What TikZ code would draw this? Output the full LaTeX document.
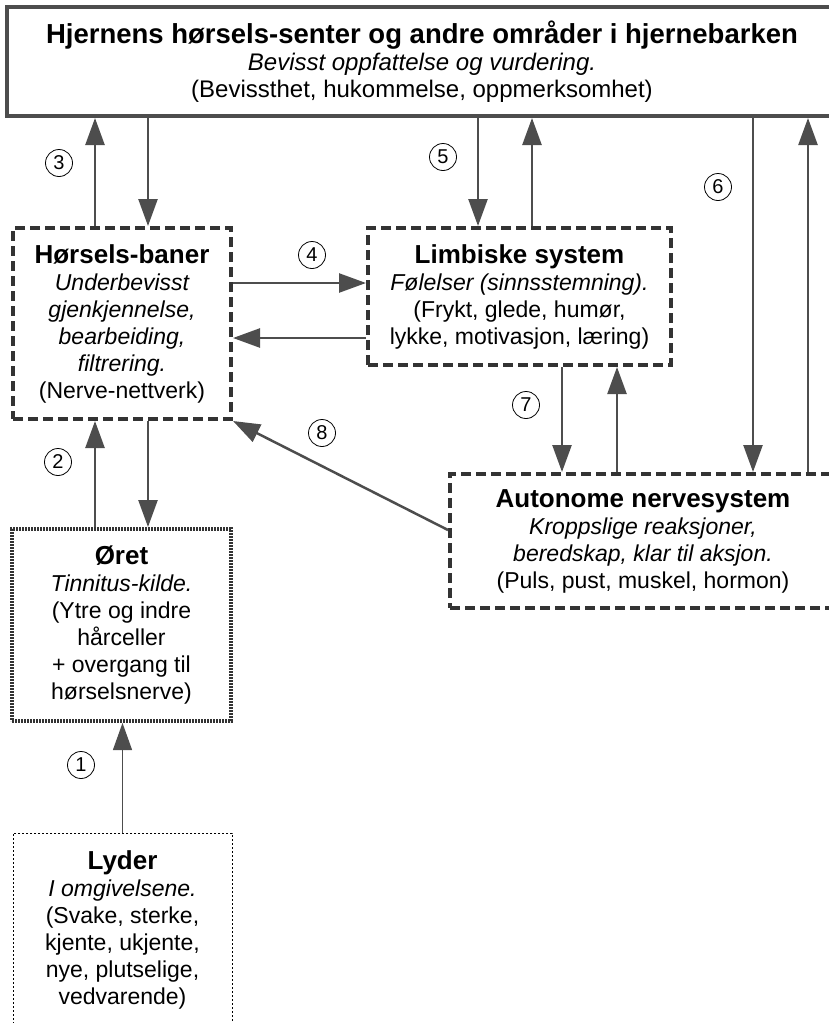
\documentclass[tikz,border=0pt]{standalone}
\usepackage{fontspec}
\setmainfont{Liberation Sans}
\usetikzlibrary{arrows.meta}
\definecolor{linegray}{HTML}{4D4D4D}
\definecolor{boxgray}{HTML}{333333}
\newcommand{\boxtitle}[1]{{\bfseries\fontsize{26}{27}\selectfont #1}}

\begin{document}
\begin{tikzpicture}[x=1pt, y=-1pt,
  every node/.style={align=center, inner sep=0pt, font=\fontsize{23}{27}\selectfont},
  topbox/.style={draw=linegray, line width=4pt},
  dashbox/.style={draw=boxgray, line width=4pt, dash pattern=on 10pt off 5pt},
  dotbox/.style={draw=boxgray, line width=4pt, dash pattern=on 2pt off 1pt},
  finebox/.style={draw=black, line width=1pt, dash pattern=on 2pt off 2pt},
  arr/.style={draw=linegray, line width=2.5pt, -{Triangle[length=27pt, width=19pt]}},
  thinarr/.style={arr, line width=1.2pt},
  num/.style={circle, draw, line width=0.8pt, minimum size=27pt, font=\fontsize{20}{20}\selectfont}]
\useasboundingbox (0,0) rectangle (828,1023);

\node[topbox, minimum width=830pt, minimum height=109pt,
  font=\fontsize{24}{27}\selectfont] (cortex) at (422,61.5)
  {{\bfseries\fontsize{27.5}{27}\selectfont Hjernens hørsels-senter og andre områder i hjernebarken}\\
   {\itshape Bevisst oppfattelse og vurdering.}\\
   (Bevissthet, hukommelse, oppmerksomhet)};
\node[dashbox, minimum width=218pt, minimum height=191pt] (hb) at (122,323.5)
  {\boxtitle{Hørsels-baner}\\
   {\itshape Underbevisst}\\ {\itshape gjenkjennelse,}\\
   {\itshape bearbeiding,}\\ {\itshape filtrering.}\\
   (Nerve-nettverk)};
\node[dashbox, minimum width=303pt, minimum height=137pt] (lim) at (519.5,296.5)
  {\boxtitle{Limbiske system}\\
   {\itshape Følelser (sinnsstemning).}\\
   (Frykt, glede, humør,\\ lykke, motivasjon, læring)};
\node[dashbox, minimum width=386pt, minimum height=134pt] (aut) at (643,541)
  {\boxtitle{Autonome nervesystem}\\
   {\itshape Kroppslige reaksjoner,}\\ {\itshape beredskap, klar til aksjon.}\\
   (Puls, pust, muskel, hormon)};
\node[dotbox, minimum width=219pt, minimum height=192pt] (ear) at (121.5,625)
  {\boxtitle{Øret}\\
   {\itshape Tinnitus-kilde.}\\
   (Ytre og indre\\ hårceller\\ + overgang til\\ hørselsnerve)};
\node[finebox, minimum width=219pt, minimum height=193pt] (lyd) at (122.5,929.5)
  {\boxtitle{Lyder}\\
   {\itshape I omgivelsene.}\\
   (Svake, sterke,\\ kjente, ukjente,\\ nye, plutselige,\\ vedvarende)};

% columns and rows of the connectors
\foreach \c/\x in {a/95, b/148, c/478, d/532, e/753, f/808, g/562, h/617}
  \coordinate (col\c) at (\x,0);
\coordinate (rowa) at (0,283);
\coordinate (rowb) at (0,338);

\draw[arr] (hb.north -| cola) -- (cortex.south -| cola);
\draw[arr] (cortex.south -| colb) -- (hb.north -| colb);
\draw[arr] (ear.north -| cola) -- (hb.south -| cola);
\draw[arr] (hb.south -| colb) -- (ear.north -| colb);
\draw[arr] (cortex.south -| colc) -- (lim.north -| colc);
\draw[arr] (lim.north -| cold) -- (cortex.south -| cold);
\draw[arr] (cortex.south -| cole) -- (aut.north -| cole);
\draw[arr] (aut.north -| colf) -- (cortex.south -| colf);
\draw[arr] (lim.south -| colg) -- (aut.north -| colg);
\draw[arr] (aut.north -| colh) -- (lim.south -| colh);
\draw[arr] (hb.east |- rowa) -- (lim.west |- rowa);
\draw[arr] (lim.west |- rowb) -- (hb.east |- rowb);
\draw[arr] ([yshift=11pt]aut.west) -- (hb.south east);
\draw[thinarr] (lyd.north) -- (lyd.north |- ear.south);

% numbers
\node[num] (n1) at (81,765) {1};
\node[num] (n2) at (58,462) {2};
\node[num] (n3) at (59,163) {3};
\node[num] (n4) at (312,255) {4};
\node[num] (n5) at (443,157) {5};
\node[num] (n6) at (718,187) {6};
\node[num] (n7) at (526,405) {7};
\node[num] (n8) at (322,433) {8};
\end{tikzpicture}
\end{document}
